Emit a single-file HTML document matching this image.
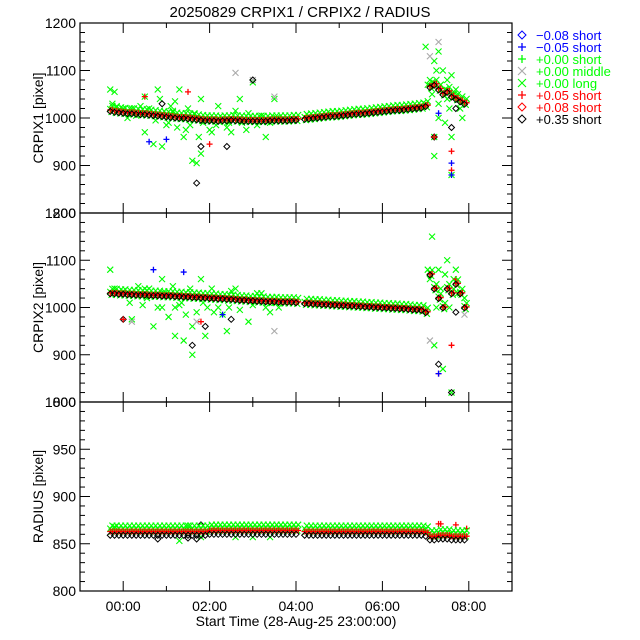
<!DOCTYPE html>
<html><head><meta charset="utf-8"><style>
body{margin:0;background:#fff;}
svg{display:block;font-family:"Liberation Sans",sans-serif;}
</style></head><body>
<svg id="chart" width="640" height="640" xmlns="http://www.w3.org/2000/svg">
<rect width="640" height="640" fill="#fff"/>
<text x="300" y="17" font-size="15" text-anchor="middle">20250829  CRPIX1 / CRPIX2 / RADIUS</text>
<text x="296" y="626" font-size="14" text-anchor="middle">Start Time (28-Aug-25 23:00:00)</text>
<g id="plots"></g>
<g id="legend"></g>
</svg>
<script>
// ---- data ----
const xTickHours = [0, 2, 4, 6, 8];
const xTickLabels = ["00:00", "02:00", "04:00", "06:00", "08:00"];
const trackTimes = [-0.3,-0.2,-0.1,0.0,0.1,0.2,0.3,0.4,0.5,0.6,0.7,0.8,0.9,1.0,1.1,1.2,1.3,1.4,1.5,1.6,1.7,1.8,1.9,2.0,2.1,2.2,2.3,2.4,2.5,2.6,2.7,2.8,2.9,3.0,3.1,3.2,3.3,3.4,3.5,3.6,3.7,3.8,3.9,4.0,4.2,4.3,4.4,4.5,4.6,4.7,4.8,4.9,5.0,5.1,5.2,5.3,5.4,5.5,5.6,5.7,5.8,5.9,6.0,6.1,6.2,6.3,6.4,6.5,6.6,6.7,6.8,6.9,7.0,7.1,7.2,7.3,7.4,7.5,7.6,7.7,7.8,7.9];
const crpix1Track = [1015,1013,1012,1011,1010,1010,1009,1008,1008,1007,1006,1005,1004,1003,1002,1001,1000,1000,999,998,997,996,995,995,995,994,995,995,996,995,995,994,994,994,994,994,994,995,995,995,995,995,996,996,998,999,1000,1001,1002,1003,1004,1004,1005,1006,1007,1008,1009,1009,1010,1011,1012,1013,1014,1015,1016,1017,1017,1018,1019,1020,1021,1022,1025,1065,1070,1060,1050,1055,1045,1040,1035,1030];
const crpix2Track = [1030,1030,1029,1029,1028,1028,1027,1027,1027,1026,1026,1026,1025,1025,1025,1024,1024,1023,1023,1022,1022,1021,1021,1020,1020,1019,1019,1018,1018,1017,1016,1016,1015,1015,1014,1014,1013,1013,1013,1012,1012,1012,1012,1011,1009,1009,1008,1008,1007,1007,1006,1006,1005,1005,1004,1004,1003,1003,1002,1002,1001,1001,1000,1000,999,999,998,998,997,996,996,995,990,1070,1040,1020,1000,1040,1030,1050,1030,1000];
const radiusTrack = [863,863,863,863,863,863,863,863,863,863,863,863,863,863,863,863,863,863,863,863,863,863,863,864,864,864,864,864,864,864,864,864,864,864,864,864,864,864,864,864,864,864,864,864,863,863,863,863,863,863,863,863,863,863,863,863,863,863,863,863,863,863,863,863,863,863,863,863,863,863,863,863,862,858,858,859,859,859,858,858,858,858];
const p1GreenT = [-0.3,-0.2,0.2,0.5,0.5,0.7,0.8,0.9,1.2,1.3,1.4,1.6,1.7,1.8,1.8,2.0,2.2,2.5,2.7,3.0,3.3,3.5,7.0,7.1,7.2,7.2,7.3,7.3,7.4,7.45,7.5,7.6,7.6,7.8,7.8,7.85,7.2,7.6,1.0,2.9];
const p1GreenV = [1060,1055,1020,1045,970,945,1060,940,1035,1060,960,910,905,1040,925,975,1025,970,1040,1075,960,1040,1150,1080,1120,960,1140,1000,1100,990,1040,1090,960,1020,1040,1000,920,880,985,1010];
const p1GreenNearT = [-0.25,-0.15,0.0,0.1,0.3,0.4,0.6,0.75,0.85,1.05,1.15,1.25,1.35,1.45,1.55,1.65,1.75,1.85,1.95,2.05,2.15,2.3,2.4,2.6,2.75,2.85,3.1,3.2,3.4,3.55,0.45,1.1,1.5,2.45,7.15,7.25,7.35,7.45,7.55,7.65,7.05,7.3,7.5,7.7];
const p1GreenNearV = [1030,1025,1020,1000,1005,1025,1020,995,1040,990,1015,980,1000,975,985,1010,960,990,1005,970,985,1000,980,1015,990,975,985,1005,990,1000,1010,1025,1020,990,1050,1100,1070,1060,1020,1050,1070,1030,1080,1060];
const p1GrayT = [2.6,3.0,7.3,3.5,7.1];
const p1GrayV = [1095,1080,1160,1045,1130];
const p1BlackT = [1.7,1.8,7.2,7.6,3.0,2.4,0.9,7.7];
const p1BlackV = [863,940,960,980,1080,940,1030,1020];
const p1RedT = [7.6,7.2,2.0,1.5,7.6,0.5];
const p1RedV = [890,960,945,1055,930,1045];
const p1BlueT = [7.6,7.6,7.3,0.6,1.0];
const p1BlueV = [880,905,1010,950,955];
const p2GreenT = [-0.3,0.5,0.7,0.9,1.2,1.4,1.6,1.6,1.8,1.9,2.1,2.4,2.6,2.9,3.2,3.6,7.05,7.15,7.2,7.3,7.4,7.5,7.6,7.7,7.8,7.9,0.2,1.2,0.9,3.4];
const p2GreenV = [1080,1040,960,1060,940,930,900,960,1060,940,990,950,1040,970,1030,1000,1080,1150,920,1080,870,1100,820,1080,1030,1020,975,1000,1000,990];
const p2GreenNearT = [-0.2,0.0,0.15,0.35,0.45,0.6,0.8,0.95,1.05,1.15,1.3,1.45,1.55,1.7,1.85,1.95,2.05,2.2,2.3,2.5,2.7,2.8,3.0,3.1,3.3,3.5,7.1,7.25,7.35,7.45,7.55,7.65,7.75,0.55,1.35,2.45];
const p2GreenNearV = [1040,1035,1010,1045,1005,1040,1000,1030,980,1045,1005,985,1040,990,1010,1000,1040,1000,985,1035,995,1020,1005,1030,1000,1010,1060,1000,1040,1070,1000,1060,1030,1020,1010,1000];
const p2GrayT = [3.5,7.9,1.7,0.2,7.1];
const p2GrayV = [950,985,970,970,930];
const p2BlackT = [0.0,1.6,7.3,7.6,7.7,1.9,2.5];
const p2BlackV = [975,920,880,820,990,960,975];
const p2RedT = [7.6,7.3,7.7,1.8,0.0];
const p2RedV = [920,860,1060,970,975];
const p2BlueT = [7.3,2.3,0.7,1.4];
const p2BlueV = [860,985,1080,1075];
const p3GreenT = [1.3,1.5,1.8,2.6,3.4,3.0,-0.2];
const p3GreenV = [853,869,857,857,857,857,868];
const p3BlackT = [0.8,1.7,1.8,1.5];
const p3BlackV = [855,855,870,856];
const p3RedT = [7.3,7.35,7.7,7.95];
const p3RedV = [871,871,870,866];
const legendLabels = ["\u22120.08 short","\u22120.05 short","+0.00 short","+0.00 middle","+0.00 long","+0.05 short","+0.08 short","+0.35 short"];
const legendColors = ["#0000ff","#0000ff","#00ff00","#00ff00","#00ff00","#ff0000","#ff0000","#000000"];
const legendSymbolColors = ["#0000ff","#0000ff","#00ff00","#aaaaaa","#00ff00","#ff0000","#ff0000","#000000"];
const legendSymbols = ["diamond","plus","plus","cross","cross","plus","diamond","diamond"];

// ---- layout ----
const NS = "http://www.w3.org/2000/svg";
const X0 = 80, X1 = 512, TMIN = -1, TMAX = 9;
const xs = t => X0 + (t - TMIN) / (TMAX - TMIN) * (X1 - X0);
const plots = document.getElementById('plots');
function el(tag, attrs, parent) {
  const e = document.createElementNS(NS, tag);
  for (const k in attrs) e.setAttribute(k, attrs[k]);
  (parent || plots).appendChild(e);
  return e;
}
function marker(g, kind, x, y, color, s) {
  s = s || 3;
  let e;
  if (kind === 'diamond') e = el('path', {d:`M${x} ${y-s}L${x+s} ${y}L${x} ${y+s}L${x-s} ${y}Z`, fill:'none', stroke:color, 'stroke-width':1}, g);
  else if (kind === 'plus') e = el('path', {d:`M${x-s} ${y}H${x+s}M${x} ${y-s}V${y+s}`, stroke:color, 'stroke-width':1.3}, g);
  else e = el('path', {d:`M${x-s} ${y-s}L${x+s} ${y+s}M${x+s} ${y-s}L${x-s} ${y+s}`, stroke:color, 'stroke-width':1.1}, g);
  return e;
}
const panels = [
  {name:'crpix1', top:23, bot:213, min:800, max:1200, major:100, minor:20, title:'CRPIX1  [pixel]', track:crpix1Track,
   outs:[[p1GreenNearT,p1GreenNearV,'#00ff00','cross'],[p1GreenT,p1GreenV,'#00ff00','cross'],[p1GrayT,p1GrayV,'#aaaaaa','cross'],[p1BlackT,p1BlackV,'#000','diamond'],[p1RedT,p1RedV,'#ff0000','plus'],[p1BlueT,p1BlueV,'#0000ff','plus']], off:[4,2,-1]},
  {name:'crpix2', top:213, bot:402, min:800, max:1200, major:100, minor:20, title:'CRPIX2  [pixel]', track:crpix2Track,
   outs:[[p2GreenNearT,p2GreenNearV,'#00ff00','cross'],[p2GreenT,p2GreenV,'#00ff00','cross'],[p2GrayT,p2GrayV,'#aaaaaa','cross'],[p2BlackT,p2BlackV,'#000','diamond'],[p2RedT,p2RedV,'#ff0000','plus'],[p2BlueT,p2BlueV,'#0000ff','plus']], off:[3,1,-1]},
  {name:'radius', top:402, bot:591, min:800, max:1000, major:50, minor:10, title:'RADIUS  [pixel]', track:radiusTrack,
   outs:[[p3GreenT,p3GreenV,'#00ff00','cross'],[p3BlackT,p3BlackV,'#000','diamond'],[p3RedT,p3RedV,'#ff0000','plus']], off:[3,0,-4]}
];
panels.forEach((p, pi) => {
  const g = el('g', {});
  
  
  const ys = v => p.bot - (v - p.min) / (p.max - p.min) * (p.bot - p.top);
  for (let v = p.min; v <= p.max + 0.001; v += p.minor) {
    const major = Math.abs((v - p.min) % p.major) < 0.001;
    const L = major ? 10 : 5, y = ys(v);
    el('line', {x1:X0, x2:X0+L, y1:y, y2:y, stroke:'#000'}, g);
    el('line', {x1:X1, x2:X1-L, y1:y, y2:y, stroke:'#000'}, g);
    if (major) {
      const t = el('text', {x:X0-4, y:y+5, 'font-size':14, 'text-anchor':'end'}, g);
      t.textContent = v;
      
      
    }
  }
  for (let h = -1; h <= 9; h++) {
    const major = h % 2 === 0, L = major ? 10 : 5, x = xs(h);
    el('line', {x1:x, x2:x, y1:p.bot, y2:p.bot-L, stroke:'#000'}, g);
    el('line', {x1:x, x2:x, y1:p.top, y2:p.top+L, stroke:'#000'}, g);
  }
  const yt = el('text', {x:0, y:0, 'font-size':14, 'text-anchor':'middle', transform:`translate(43 ${(p.top+p.bot)/2}) rotate(-90)`}, g);
  yt.textContent = p.title;
  
  
  const tg = el('g', {}, g);
  
  
  // outliers first (behind track)
  p.outs.forEach(o => {
    o[0].forEach((t, i) => {
      const m = marker(tg, o[3], xs(t), ys(o[1][i]), o[2], 3);
      
      
    });
  });
  const cols = [['#00ff00','cross'],['#ff0000','plus'],['#000','diamond']];
  cols.forEach((c, ci) => {
    trackTimes.forEach((t, i) => {
      const y = ys(p.track[i] + p.off[ci]);
      const m = marker(tg, c[1], xs(t), y, c[0], 3);
      
      
      if (ci === 0) {
        const m1 = marker(tg, c[1], xs(t + 0.05), y - 3, c[0], 3);
        
        
        const m3 = marker(tg, c[1], xs(t + 0.03), y + 3, c[0], 3);
        
        
      } else if (ci === 1) {
        const m2 = marker(tg, c[1], xs(t + 0.05), y, c[0], 3);
        
        
      }
    });
  });
  el('rect', {x:X0, y:p.top, width:X1-X0, height:p.bot-p.top, fill:'none', stroke:'#000', 'stroke-width':1.2}, g);
  if (pi === 2) {
    xTickHours.forEach((h, i) => {
      const t = el('text', {x:xs(h), y:p.bot+20, 'font-size':14, 'text-anchor':'middle'}, g);
      t.textContent = xTickLabels[i];
      
      
    });
  }
});
const lg = document.getElementById('legend');
legendLabels.forEach((lab, i) => {
  const y = 35 + i * 12;
  const m = marker(lg, legendSymbols[i], 522, y, legendSymbolColors[i], 4);
  
  
  const t = el('text', {x:536, y:y+5, 'font-size':13, fill:legendColors[i]}, lg);
  t.textContent = lab;
  
  
});
</script>
</body></html>
